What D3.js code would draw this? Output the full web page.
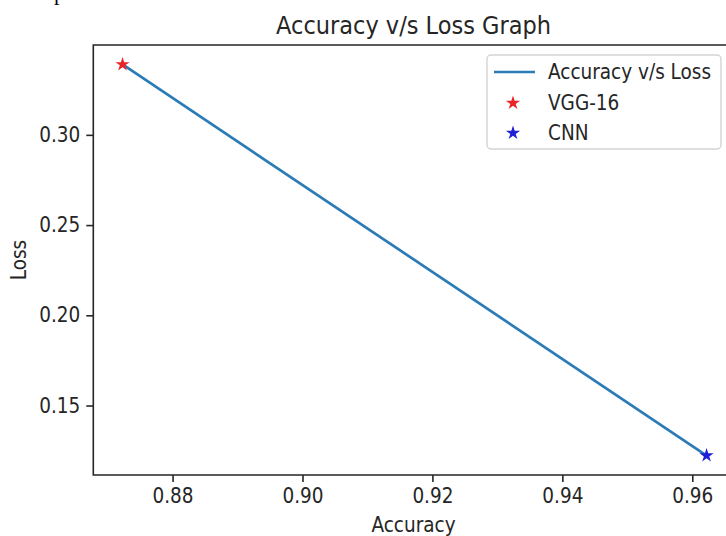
<!DOCTYPE html>
<meta charset="utf-8">
<head>
	<title>Accuracy v/s Loss Graph</title>
	<style>
		body { margin: 0; background: #FFFFFF; }
		svg { display: block; }
		text { font-family: "DejaVu Sans Condensed", "DejaVu Sans", sans-serif; font-stretch: condensed; fill: #262626; }
		.spine { stroke: #262626; stroke-width: 1.6; fill: none; }
		.tick line { stroke: #262626; stroke-width: 1.6; }
		.clipped { font-family: "Liberation Serif", serif; font-stretch: normal; fill: #000; }
	</style>
	<script src="https://d3js.org/d3.v7.min.js"></script>
</head>
<body>
	<div id="graph"></div>
	<script>
		// data
		const models = ['VGG-16', 'CNN'];
		const accuracy = [0.8723, 0.9622];
		const loss = [0.339, 0.1223];
		const markerColors = ['#e8262a', '#1f1fd8'];
		const xTicks = [0.88, 0.90, 0.92, 0.94, 0.96];
		const yTicks = [0.15, 0.20, 0.25, 0.30];
		const lineLabel = 'Accuracy v/s Loss';

		const W = 726, H = 536;
		const LEFT = 93.3, RIGHT = 735.8, TOP = 45, BOTTOM = 475;

		const svg = d3.select('#graph').append('svg').attr('width', W).attr('height', H);

		// scrap of page text above the figure (only its lower edge shows)
		svg.append('text').attr('class', 'clipped').attr('x', 16).attr('y', 0).style('font-size', '22px').text('comparison.');

		const x = d3.scaleLinear().domain([0.8678, 0.9667]).range([LEFT, RIGHT]);
		const y = d3.scaleLinear().domain([0.1115, 0.3498]).range([BOTTOM, TOP]);

		// axes
		const xAxis = d3.axisBottom(x).tickValues(xTicks).tickFormat(d3.format('.2f')).tickSize(7).tickPadding(6);
		const yAxis = d3.axisLeft(y).tickValues(yTicks).tickFormat(d3.format('.2f')).tickSize(7).tickPadding(6);

		const gx = svg.append('g').attr('transform', `translate(0,${BOTTOM})`).call(xAxis);
		const gy = svg.append('g').attr('transform', `translate(${LEFT},0)`).call(yAxis);
		[gx, gy].forEach(g => {
			g.select('.domain').remove();
			g.selectAll('text').style('font-size', '20.5px').style('fill', '#262626').attr('font-family', null);
		});

		// spines
		svg.append('path').attr('class', 'spine')
			.attr('d', `M${RIGHT},${TOP}H${LEFT}V${BOTTOM}H${RIGHT}V${TOP}`);

		// line + markers
		const pts = models.map((m, i) => ({name: m, acc: accuracy[i], loss: loss[i], color: markerColors[i]}));
		svg.append('path').datum(pts)
			.attr('fill', 'none').attr('stroke', '#2b7bb6').attr('stroke-width', 2.7)
			.attr('d', d3.line().x(d => x(d.acc)).y(d => y(d.loss)));

		const star = d3.symbol().type(d3.symbolStar).size(62);
		svg.selectAll('.pt').data(pts).join('path').attr('class', 'pt')
			.attr('transform', d => `translate(${x(d.acc)},${y(d.loss)})`)
			.attr('d', star).attr('fill', d => d.color);

		// title and axis labels
		svg.append('text').attr('x', (LEFT + RIGHT) / 2 - 1).attr('y', 34).attr('text-anchor', 'middle')
			.style('font-size', '25px').text('Accuracy v/s Loss Graph');
		svg.append('text').attr('x', (LEFT + RIGHT) / 2 - 1).attr('y', 532).attr('text-anchor', 'middle')
			.style('font-size', '20.5px').text('Accuracy');
		svg.append('text').attr('transform', `translate(26,${(TOP + BOTTOM) / 2}) rotate(-90)`).attr('text-anchor', 'middle')
			.style('font-size', '20.5px').text('Loss');

		// legend
		const legend = svg.append('g').attr('transform', 'translate(487,55)');
		legend.append('rect').attr('width', 234).attr('height', 94).attr('rx', 4)
			.attr('fill', '#fff').attr('fill-opacity', 0.8).attr('stroke', '#d4d4d4').attr('stroke-width', 1.4);
		legend.append('line').attr('x1', 7).attr('x2', 48).attr('y1', 17).attr('y2', 17)
			.attr('stroke', '#2b7bb6').attr('stroke-width', 2.7);
		legend.append('text').attr('x', 61).attr('y', 24).style('font-size', '20.5px').text(lineLabel);
		pts.forEach((d, i) => {
			const cy = 48 + i * 30;
			legend.append('path').attr('transform', `translate(26,${cy})`).attr('d', star).attr('fill', d.color);
			legend.append('text').attr('x', 61).attr('y', cy + 7).style('font-size', '20.5px').text(d.name);
		});
	</script>
</body>
